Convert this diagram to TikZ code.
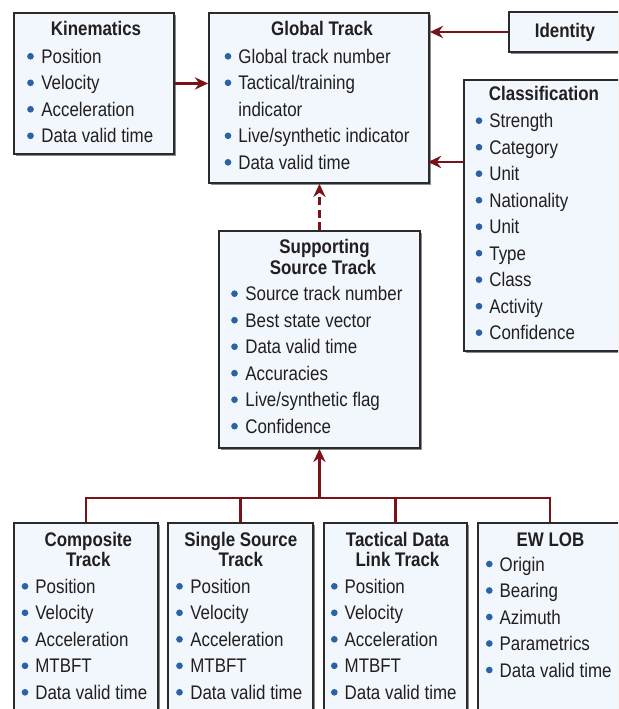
\documentclass[tikz,border=0pt]{standalone}
\usepackage{fontspec}
\setmainfont{Liberation Sans}[FakeStretch=0.86]
\usetikzlibrary{positioning, arrows.meta, shadows}

\definecolor{boxfill}{HTML}{F1F7FC}
\definecolor{dotblue}{HTML}{2A62A6}
\definecolor{linkred}{HTML}{7A1219}
\definecolor{edgegray}{HTML}{2B2B2B}
\definecolor{inkblack}{HTML}{231F20}

\tikzset{
  trackbox/.style={draw=edgegray, line width=1.1pt, fill=boxfill, inner sep=0pt, anchor=north west,
    drop shadow={shadow xshift=1.3pt, shadow yshift=-1.3pt, fill=black, opacity=0.45}},
  boxtitle/.style={font=\bfseries\fontsize{11.2}{13}\selectfont, text=inkblack, inner sep=0pt, anchor=base},
  boxitem/.style={font=\fontsize{11.2}{13}\selectfont, text=inkblack, inner sep=0pt, anchor=base west},
  dot/.style={fill=dotblue},
  link/.style={draw=linkred, line width=1.2pt},
  linkarrow/.style={link, -{Stealth[length=7.5pt, width=7pt, inset=2.5pt]}},
}

\begin{document}
\begin{tikzpicture}[x=0.02cm, y=-0.02cm]
    \useasboundingbox (0,0) rectangle (618,709);
    \clip (0,0) rectangle (618,709);
    % boxes
    \node[trackbox, minimum width=3.2cm, minimum height=2.82cm] (kin) at (13,12) {};
    \node[trackbox, minimum width=4.4cm, minimum height=3.4cm] (glob) at (208,12) {};
    \node[trackbox, minimum width=2.28cm, minimum height=0.8cm] (ident) at (508,11) {};
    \node[trackbox, minimum width=3.24cm, minimum height=5.42cm] (class) at (463,79) {};
    \node[trackbox, minimum width=4.02cm, minimum height=4.34cm] (supp) at (218,230) {};
    \node[trackbox, minimum width=2.88cm, minimum height=3.96cm] (comp) at (13,522) {};
    \node[trackbox, minimum width=2.9cm, minimum height=3.96cm] (single) at (167,522) {};
    \node[trackbox, minimum width=2.86cm, minimum height=3.96cm] (tdl) at (323,522) {};
    \node[trackbox, minimum width=2.88cm, minimum height=3.96cm] (ewlob) at (477,522) {};
    % Kinematics
    \node[boxtitle] (kin-t) at (96,36) {Kinematics};
    \foreach \txt [count=\i from 0] in {Position, Velocity, Acceleration, Data valid time} {
      \node[boxitem] (kin-\i) at (41,{63.3+26.5*\i}) {\txt};
      \fill[dot] (30.5,{56.3+26.5*\i}) circle (1.9pt);
    }
    % Global track
    \node[boxtitle] (glob-t) at (322,36) {Global Track};
    \foreach \txt [count=\i from 0] in {Global track number, Tactical/training, indicator, Live/synthetic indicator, Data valid time} {
      \node[boxitem] (glob-\i) at (238,{63.3+26.5*\i}) {\txt};
    }
    \foreach \i in {0,1,3,4}
      \fill[dot] (228,{56.3+26.5*\i}) circle (1.9pt);
    % Identity
    \node[boxtitle] (ident-t) at (565,37.5) {Identity};
    % Classification
    \node[boxtitle] (class-t) at (544,100.7) {Classification};
    \foreach \txt [count=\i from 0] in {Strength, Category, Unit, Nationality, Unit, Type, Class, Activity, Confidence} {
      \node[boxitem] (class-\i) at (489,{127.7+26.5*\i}) {\txt};
      \fill[dot] (479,{120.7+26.5*\i}) circle (1.9pt);
    }
    % Supporting source track
    \node[boxtitle] (supp-t1) at (324.5,254) {Supporting};
    \node[boxtitle] (supp-t2) at (323,274.5) {Source Track};
    \foreach \txt [count=\i from 0] in {Source track number, Best state vector, Data valid time, Accuracies, Live/synthetic flag, Confidence} {
      \node[boxitem] (supp-\i) at (245,{300.7+26.5*\i}) {\txt};
      \fill[dot] (234.5,{293.7+26.5*\i}) circle (1.9pt);
    }
    % Composite track
    \node[boxtitle] (comp-t1) at (88.3,546) {Composite};
    \node[boxtitle] (comp-t2) at (88.3,566.7) {Track};
    \foreach \txt [count=\i from 0] in {Position, Velocity, Acceleration, MTBFT, Data valid time} {
      \node[boxitem] (comp-\i) at (35,{593.3+26.5*\i}) {\txt};
      \fill[dot] (25,{586.3+26.5*\i}) circle (1.9pt);
    }
    % Single source track
    \node[boxtitle] (single-t1) at (240.8,546) {Single Source};
    \node[boxtitle] (single-t2) at (240.8,566.7) {Track};
    \foreach \txt [count=\i from 0] in {Position, Velocity, Acceleration, MTBFT, Data valid time} {
      \node[boxitem] (single-\i) at (190,{593.3+26.5*\i}) {\txt};
      \fill[dot] (179.5,{586.3+26.5*\i}) circle (1.9pt);
    }
    % Tactical data link track
    \node[boxtitle] (tdl-t1) at (397.5,546) {Tactical Data};
    \node[boxtitle] (tdl-t2) at (397.5,566.7) {Link Track};
    \foreach \txt [count=\i from 0] in {Position, Velocity, Acceleration, MTBFT, Data valid time} {
      \node[boxitem] (tdl-\i) at (344.3,{593.3+26.5*\i}) {\txt};
      \fill[dot] (334.3,{586.3+26.5*\i}) circle (1.9pt);
    }
    % EW LOB
    \node[boxtitle] (ewlob-t) at (550.5,546) {EW LOB};
    \foreach \txt [count=\i from 0] in {Origin, Bearing, Azimuth, Parametrics, Data valid time} {
      \node[boxitem] (ewlob-\i) at (499.3,{571+26.5*\i}) {\txt};
      \fill[dot] (489.3,{564+26.5*\i}) circle (1.9pt);
    }
    % connectors
    \coordinate (class-in) at (428,162);
    \coordinate (bus) at (318,498);
    \draw[linkarrow] (kin.east) -- (glob.west |- kin.east);
    \draw[linkarrow] (ident.west) -- (glob.east |- ident.west);
    \draw[linkarrow] (class.west |- class-in) -- (class-in);
    \draw[linkarrow, dash pattern=on 4.5pt off 2.5pt] (supp.north) -- (supp.north |- glob.south);
    \draw[link] (comp.north) |- (ewlob.north |- bus) -- (ewlob.north);
    \draw[link] (single.north) -- (single.north |- bus);
    \draw[link] (tdl.north) -- (tdl.north |- bus);
    \draw[linkarrow] (supp.south |- bus) -- (supp.south);
\end{tikzpicture}
\end{document}
